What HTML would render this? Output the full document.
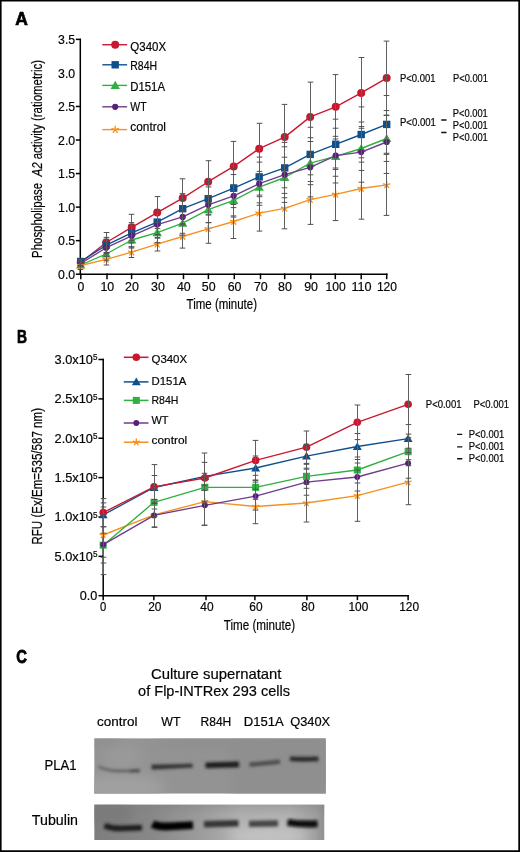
<!DOCTYPE html><html><head><meta charset="utf-8"><title>Figure</title><style>html,body{margin:0;padding:0;background:#fff;}svg{display:block;will-change:transform;}text{stroke:#111;stroke-width:0.2px;}</style></head><body>
<svg width="520" height="852" viewBox="0 0 520 852" font-family='"Liberation Sans", sans-serif'>
<defs><filter id="bl1" x="-20%" y="-50%" width="140%" height="200%"><feGaussianBlur stdDeviation="1.1"/></filter><filter id="bl2" x="-20%" y="-80%" width="140%" height="260%"><feGaussianBlur stdDeviation="1.5"/></filter><filter id="bl3" x="-20%" y="-20%" width="140%" height="140%"><feGaussianBlur stdDeviation="6"/></filter><linearGradient id="gt" x1="94" y1="0" x2="326" y2="0" gradientUnits="userSpaceOnUse"><stop offset="0" stop-color="#7e7e7e"/><stop offset="0.24" stop-color="#878787"/><stop offset="0.46" stop-color="#9c9c9c"/><stop offset="0.63" stop-color="#b0b0b0"/><stop offset="0.84" stop-color="#b2b2b2"/><stop offset="0.95" stop-color="#a0a0a0"/><stop offset="1" stop-color="#8e8e8e"/></linearGradient><clipPath id="c1"><rect x="94.2" y="738.2" width="231.7" height="55.5"/></clipPath><clipPath id="c2"><rect x="94.2" y="804.4" width="230.3" height="35.7"/></clipPath></defs>
<rect width="520" height="852" fill="#fff"/>
<text x="15.30" y="24.70" font-size="18" textLength="12.60" lengthAdjust="spacingAndGlyphs" font-weight="bold" fill="#000" style="stroke:#000;stroke-width:0.7px">A</text>
<g stroke="#000" stroke-width="1.5" fill="none" stroke-linecap="square">
<path d="M80.3 39.4V274.2H386.7"/>
<path d="M76.6 274.20H80.3"/>
<path d="M76.6 240.65H80.3"/>
<path d="M76.6 207.11H80.3"/>
<path d="M76.6 173.56H80.3"/>
<path d="M76.6 140.02H80.3"/>
<path d="M76.6 106.47H80.3"/>
<path d="M76.6 39.38H80.3"/>
<path d="M80.80 274.2V278.4"/>
<path d="M107.00 274.2V278.4"/>
<path d="M131.60 274.2V278.4"/>
<path d="M157.60 274.2V278.4"/>
<path d="M183.50 274.2V278.4"/>
<path d="M208.40 274.2V278.4"/>
<path d="M234.30 274.2V278.4"/>
<path d="M260.50 274.2V278.4"/>
<path d="M284.70 274.2V278.4"/>
<path d="M310.80 274.2V278.4"/>
<path d="M335.30 274.2V278.4"/>
<path d="M361.20 274.2V278.4"/>
<path d="M386.70 274.2V278.4"/>
</g>
<polyline points="80.70,262.50 106.20,242.50 131.70,227.30 157.20,212.60 182.70,198.10 208.20,181.70 233.70,166.40 259.20,148.70 284.70,137.10 310.20,116.90 335.70,106.80 361.20,92.90 386.70,78.10" fill="none" stroke="#c81830" stroke-width="1.35" stroke-linejoin="round"/>
<circle cx="80.70" cy="262.50" r="4.00" fill="#c81830"/>
<circle cx="106.20" cy="242.50" r="4.00" fill="#c81830"/>
<circle cx="131.70" cy="227.30" r="4.00" fill="#c81830"/>
<circle cx="157.20" cy="212.60" r="4.00" fill="#c81830"/>
<circle cx="182.70" cy="198.10" r="4.00" fill="#c81830"/>
<circle cx="208.20" cy="181.70" r="4.00" fill="#c81830"/>
<circle cx="233.70" cy="166.40" r="4.00" fill="#c81830"/>
<circle cx="259.20" cy="148.70" r="4.00" fill="#c81830"/>
<circle cx="284.70" cy="137.10" r="4.00" fill="#c81830"/>
<circle cx="310.20" cy="116.90" r="4.00" fill="#c81830"/>
<circle cx="335.70" cy="106.80" r="4.00" fill="#c81830"/>
<circle cx="361.20" cy="92.90" r="4.00" fill="#c81830"/>
<circle cx="386.70" cy="78.10" r="4.00" fill="#c81830"/>
<polyline points="80.70,261.50 106.20,245.20 131.70,232.80 157.20,222.10 182.70,208.70 208.20,198.70 233.70,188.10 259.20,176.90 284.70,167.90 310.20,154.40 335.70,144.30 361.20,134.50 386.70,124.40" fill="none" stroke="#0f508c" stroke-width="1.35" stroke-linejoin="round"/>
<rect x="77.00" y="257.80" width="7.40" height="7.40" fill="#0f508c"/>
<rect x="102.50" y="241.50" width="7.40" height="7.40" fill="#0f508c"/>
<rect x="128.00" y="229.10" width="7.40" height="7.40" fill="#0f508c"/>
<rect x="153.50" y="218.40" width="7.40" height="7.40" fill="#0f508c"/>
<rect x="179.00" y="205.00" width="7.40" height="7.40" fill="#0f508c"/>
<rect x="204.50" y="195.00" width="7.40" height="7.40" fill="#0f508c"/>
<rect x="230.00" y="184.40" width="7.40" height="7.40" fill="#0f508c"/>
<rect x="255.50" y="173.20" width="7.40" height="7.40" fill="#0f508c"/>
<rect x="281.00" y="164.20" width="7.40" height="7.40" fill="#0f508c"/>
<rect x="306.50" y="150.70" width="7.40" height="7.40" fill="#0f508c"/>
<rect x="332.00" y="140.60" width="7.40" height="7.40" fill="#0f508c"/>
<rect x="357.50" y="130.80" width="7.40" height="7.40" fill="#0f508c"/>
<rect x="383.00" y="120.70" width="7.40" height="7.40" fill="#0f508c"/>
<polyline points="80.70,265.00 106.20,254.00 131.70,240.00 157.20,232.70 182.70,223.10 208.20,209.60 233.70,200.40 259.20,187.10 284.70,177.50 310.20,163.10 335.70,156.30 361.20,148.50 386.70,138.50" fill="none" stroke="#2fb040" stroke-width="1.35" stroke-linejoin="round"/>
<polygon points="80.70,260.40 85.40,268.60 76.00,268.60" fill="#2fb040"/>
<polygon points="106.20,249.40 110.90,257.60 101.50,257.60" fill="#2fb040"/>
<polygon points="131.70,235.40 136.40,243.60 127.00,243.60" fill="#2fb040"/>
<polygon points="157.20,228.10 161.90,236.30 152.50,236.30" fill="#2fb040"/>
<polygon points="182.70,218.50 187.40,226.70 178.00,226.70" fill="#2fb040"/>
<polygon points="208.20,205.00 212.90,213.20 203.50,213.20" fill="#2fb040"/>
<polygon points="233.70,195.80 238.40,204.00 229.00,204.00" fill="#2fb040"/>
<polygon points="259.20,182.50 263.90,190.70 254.50,190.70" fill="#2fb040"/>
<polygon points="284.70,172.90 289.40,181.10 280.00,181.10" fill="#2fb040"/>
<polygon points="310.20,158.50 314.90,166.70 305.50,166.70" fill="#2fb040"/>
<polygon points="335.70,151.70 340.40,159.90 331.00,159.90" fill="#2fb040"/>
<polygon points="361.20,143.90 365.90,152.10 356.50,152.10" fill="#2fb040"/>
<polygon points="386.70,133.90 391.40,142.10 382.00,142.10" fill="#2fb040"/>
<polyline points="80.70,263.50 106.20,247.70 131.70,235.80 157.20,224.60 182.70,216.90 208.20,204.80 233.70,195.80 259.20,183.70 284.70,174.60 310.20,167.30 335.70,155.60 361.20,152.10 386.70,142.00" fill="none" stroke="#6e3c8c" stroke-width="1.35" stroke-linejoin="round"/>
<circle cx="80.70" cy="263.50" r="3.10" fill="#5a1f78"/>
<circle cx="106.20" cy="247.70" r="3.10" fill="#5a1f78"/>
<circle cx="131.70" cy="235.80" r="3.10" fill="#5a1f78"/>
<circle cx="157.20" cy="224.60" r="3.10" fill="#5a1f78"/>
<circle cx="182.70" cy="216.90" r="3.10" fill="#5a1f78"/>
<circle cx="208.20" cy="204.80" r="3.10" fill="#5a1f78"/>
<circle cx="233.70" cy="195.80" r="3.10" fill="#5a1f78"/>
<circle cx="259.20" cy="183.70" r="3.10" fill="#5a1f78"/>
<circle cx="284.70" cy="174.60" r="3.10" fill="#5a1f78"/>
<circle cx="310.20" cy="167.30" r="3.10" fill="#5a1f78"/>
<circle cx="335.70" cy="155.60" r="3.10" fill="#5a1f78"/>
<circle cx="361.20" cy="152.10" r="3.10" fill="#5a1f78"/>
<circle cx="386.70" cy="142.00" r="3.10" fill="#5a1f78"/>
<polyline points="80.70,265.50 106.20,259.40 131.70,252.20 157.20,244.20 182.70,236.50 208.20,228.80 233.70,221.50 259.20,213.10 284.70,208.30 310.20,199.60 335.70,194.30 361.20,188.50 386.70,184.90" fill="none" stroke="#f7901e" stroke-width="1.35" stroke-linejoin="round"/>
<path d="M80.70 265.50L80.70 262.10M80.70 265.50L83.93 264.45M80.70 265.50L82.70 268.25M80.70 265.50L78.70 268.25M80.70 265.50L77.47 264.45" stroke="#f7901e" stroke-width="1.35" stroke-linecap="round" fill="none"/>
<path d="M106.20 259.40L106.20 256.00M106.20 259.40L109.43 258.35M106.20 259.40L108.20 262.15M106.20 259.40L104.20 262.15M106.20 259.40L102.97 258.35" stroke="#f7901e" stroke-width="1.35" stroke-linecap="round" fill="none"/>
<path d="M131.70 252.20L131.70 248.80M131.70 252.20L134.93 251.15M131.70 252.20L133.70 254.95M131.70 252.20L129.70 254.95M131.70 252.20L128.47 251.15" stroke="#f7901e" stroke-width="1.35" stroke-linecap="round" fill="none"/>
<path d="M157.20 244.20L157.20 240.80M157.20 244.20L160.43 243.15M157.20 244.20L159.20 246.95M157.20 244.20L155.20 246.95M157.20 244.20L153.97 243.15" stroke="#f7901e" stroke-width="1.35" stroke-linecap="round" fill="none"/>
<path d="M182.70 236.50L182.70 233.10M182.70 236.50L185.93 235.45M182.70 236.50L184.70 239.25M182.70 236.50L180.70 239.25M182.70 236.50L179.47 235.45" stroke="#f7901e" stroke-width="1.35" stroke-linecap="round" fill="none"/>
<path d="M208.20 228.80L208.20 225.40M208.20 228.80L211.43 227.75M208.20 228.80L210.20 231.55M208.20 228.80L206.20 231.55M208.20 228.80L204.97 227.75" stroke="#f7901e" stroke-width="1.35" stroke-linecap="round" fill="none"/>
<path d="M233.70 221.50L233.70 218.10M233.70 221.50L236.93 220.45M233.70 221.50L235.70 224.25M233.70 221.50L231.70 224.25M233.70 221.50L230.47 220.45" stroke="#f7901e" stroke-width="1.35" stroke-linecap="round" fill="none"/>
<path d="M259.20 213.10L259.20 209.70M259.20 213.10L262.43 212.05M259.20 213.10L261.20 215.85M259.20 213.10L257.20 215.85M259.20 213.10L255.97 212.05" stroke="#f7901e" stroke-width="1.35" stroke-linecap="round" fill="none"/>
<path d="M284.70 208.30L284.70 204.90M284.70 208.30L287.93 207.25M284.70 208.30L286.70 211.05M284.70 208.30L282.70 211.05M284.70 208.30L281.47 207.25" stroke="#f7901e" stroke-width="1.35" stroke-linecap="round" fill="none"/>
<path d="M310.20 199.60L310.20 196.20M310.20 199.60L313.43 198.55M310.20 199.60L312.20 202.35M310.20 199.60L308.20 202.35M310.20 199.60L306.97 198.55" stroke="#f7901e" stroke-width="1.35" stroke-linecap="round" fill="none"/>
<path d="M335.70 194.30L335.70 190.90M335.70 194.30L338.93 193.25M335.70 194.30L337.70 197.05M335.70 194.30L333.70 197.05M335.70 194.30L332.47 193.25" stroke="#f7901e" stroke-width="1.35" stroke-linecap="round" fill="none"/>
<path d="M361.20 188.50L361.20 185.10M361.20 188.50L364.43 187.45M361.20 188.50L363.20 191.25M361.20 188.50L359.20 191.25M361.20 188.50L357.97 187.45" stroke="#f7901e" stroke-width="1.35" stroke-linecap="round" fill="none"/>
<path d="M386.70 184.90L386.70 181.50M386.70 184.90L389.93 183.85M386.70 184.90L388.70 187.65M386.70 184.90L384.70 187.65M386.70 184.90L383.47 183.85" stroke="#f7901e" stroke-width="1.35" stroke-linecap="round" fill="none"/>
<path d="M80.50 259.16V269.50M106.50 232.50V265.00M131.50 214.30V257.50M157.50 196.60V251.00M182.50 178.80V248.10M208.50 160.70V243.30M233.50 141.40V238.50M259.50 123.30V231.10M284.50 104.40V228.80M310.50 82.10V224.40M335.50 74.60V220.60M361.50 57.50V219.20M386.50 41.10V215.40" stroke="#606060" stroke-width="1" fill="none"/>
<path d="M77.70 259.50H83.30M77.70 265.50H83.30M77.70 259.16H83.30M77.70 263.84H83.30M77.70 260.95H83.30M77.70 266.05H83.30M77.70 263.14H83.30M77.70 266.86H83.30M77.70 261.50H83.30M77.70 269.50H83.30M103.70 232.50H109.30M103.70 252.50H109.30M103.70 237.40H109.30M103.70 253.00H109.30M103.70 239.20H109.30M103.70 256.20H109.30M103.70 247.80H109.30M103.70 260.20H109.30M103.70 253.80H109.30M103.70 265.00H109.30M128.70 214.30H134.30M128.70 240.30H134.30M128.70 222.66H134.30M128.70 242.94H134.30M128.70 224.75H134.30M128.70 246.85H134.30M128.70 231.94H134.30M128.70 248.06H134.30M128.70 246.90H134.30M128.70 257.50H134.30M154.70 196.60H160.30M154.70 228.60H160.30M154.70 209.62H160.30M154.70 234.58H160.30M154.70 211.00H160.30M154.70 238.20H160.30M154.70 222.78H160.30M154.70 242.62H160.30M154.70 237.40H160.30M154.70 251.00H160.30M179.70 178.80H185.30M179.70 217.40H185.30M179.70 193.65H185.30M179.70 223.75H185.30M179.70 200.50H185.30M179.70 233.31H185.30M179.70 211.13H185.30M179.70 235.07H185.30M179.70 224.90H185.30M179.70 248.10H185.30M205.70 160.70H211.30M205.70 202.70H211.30M205.70 182.32H211.30M205.70 215.08H211.30M205.70 186.95H211.30M205.70 222.65H211.30M205.70 196.58H211.30M205.70 222.62H211.30M205.70 214.30H211.30M205.70 243.30H211.30M230.70 141.40H236.30M230.70 191.40H236.30M230.70 168.60H236.30M230.70 207.60H236.30M230.70 174.55H236.30M230.70 217.05H236.30M230.70 184.90H236.30M230.70 215.90H236.30M230.70 204.50H236.30M230.70 238.50H236.30M256.70 123.30H262.30M256.70 174.10H262.30M256.70 157.09H262.30M256.70 196.71H262.30M256.70 162.11H262.30M256.70 205.29H262.30M256.70 171.35H262.30M256.70 202.85H262.30M256.70 195.10H262.30M256.70 231.10H262.30M281.70 104.40H287.30M281.70 169.80H287.30M281.70 142.39H287.30M281.70 193.41H287.30M281.70 146.81H287.30M281.70 202.39H287.30M281.70 157.23H287.30M281.70 197.77H287.30M281.70 187.80H287.30M281.70 228.80H287.30M307.70 82.10H313.30M307.70 151.70H313.30M307.70 127.26H313.30M307.70 181.54H313.30M307.70 137.72H313.30M307.70 196.88H313.30M307.70 141.52H313.30M307.70 184.68H313.30M307.70 174.80H313.30M307.70 224.40H313.30M332.70 74.60H338.30M332.70 139.00H338.30M332.70 119.18H338.30M332.70 169.42H338.30M332.70 128.23H338.30M332.70 182.97H338.30M332.70 136.34H338.30M332.70 176.26H338.30M332.70 168.00H338.30M332.70 220.60H338.30M358.70 57.50H364.30M358.70 128.30H364.30M358.70 106.89H364.30M358.70 162.11H364.30M358.70 122.01H364.30M358.70 182.19H364.30M358.70 126.55H364.30M358.70 170.45H364.30M358.70 157.80H364.30M358.70 219.20H364.30M383.70 41.10H389.30M383.70 115.10H389.30M383.70 95.54H389.30M383.70 153.26H389.30M383.70 110.55H389.30M383.70 173.45H389.30M383.70 115.56H389.30M383.70 161.44H389.30M383.70 154.40H389.30M383.70 215.40H389.30" stroke="#505050" stroke-width="1" fill="none"/>
<text x="75.20" y="278.80" font-size="13" text-anchor="end" textLength="17.10" lengthAdjust="spacingAndGlyphs">0.0</text>
<text x="75.20" y="245.25" font-size="13" text-anchor="end" textLength="17.10" lengthAdjust="spacingAndGlyphs">0.5</text>
<text x="75.20" y="211.71" font-size="13" text-anchor="end" textLength="17.10" lengthAdjust="spacingAndGlyphs">1.0</text>
<text x="75.20" y="178.16" font-size="13" text-anchor="end" textLength="17.10" lengthAdjust="spacingAndGlyphs">1.5</text>
<text x="75.20" y="144.62" font-size="13" text-anchor="end" textLength="17.10" lengthAdjust="spacingAndGlyphs">2.0</text>
<text x="75.20" y="111.07" font-size="13" text-anchor="end" textLength="17.10" lengthAdjust="spacingAndGlyphs">2.5</text>
<text x="75.20" y="77.53" font-size="13" text-anchor="end" textLength="17.10" lengthAdjust="spacingAndGlyphs">3.0</text>
<text x="75.20" y="43.98" font-size="13" text-anchor="end" textLength="17.10" lengthAdjust="spacingAndGlyphs">3.5</text>
<text x="80.80" y="291.00" font-size="13" text-anchor="middle" textLength="6.80" lengthAdjust="spacingAndGlyphs">0</text>
<text x="107.30" y="291.00" font-size="13" text-anchor="middle" textLength="13.80" lengthAdjust="spacingAndGlyphs">10</text>
<text x="131.90" y="291.00" font-size="13" text-anchor="middle" textLength="13.80" lengthAdjust="spacingAndGlyphs">20</text>
<text x="157.90" y="291.00" font-size="13" text-anchor="middle" textLength="13.80" lengthAdjust="spacingAndGlyphs">30</text>
<text x="183.80" y="291.00" font-size="13" text-anchor="middle" textLength="13.80" lengthAdjust="spacingAndGlyphs">40</text>
<text x="208.70" y="291.00" font-size="13" text-anchor="middle" textLength="13.80" lengthAdjust="spacingAndGlyphs">50</text>
<text x="234.60" y="291.00" font-size="13" text-anchor="middle" textLength="13.80" lengthAdjust="spacingAndGlyphs">60</text>
<text x="260.80" y="291.00" font-size="13" text-anchor="middle" textLength="13.80" lengthAdjust="spacingAndGlyphs">70</text>
<text x="285.00" y="291.00" font-size="13" text-anchor="middle" textLength="13.80" lengthAdjust="spacingAndGlyphs">80</text>
<text x="311.10" y="291.00" font-size="13" text-anchor="middle" textLength="13.80" lengthAdjust="spacingAndGlyphs">90</text>
<text x="335.60" y="291.00" font-size="13" text-anchor="middle" textLength="20.20" lengthAdjust="spacingAndGlyphs">100</text>
<text x="361.50" y="291.00" font-size="13" text-anchor="middle" textLength="20.20" lengthAdjust="spacingAndGlyphs">110</text>
<text x="387.00" y="291.00" font-size="13" text-anchor="middle" textLength="20.20" lengthAdjust="spacingAndGlyphs">120</text>
<text x="186.60" y="308.80" font-size="14.5" textLength="70.40" lengthAdjust="spacingAndGlyphs">Time (minute)</text>
<g transform="translate(42,258) rotate(-90)">
<text x="0.00" y="0.00" font-size="14" textLength="198.00" lengthAdjust="spacingAndGlyphs">Phospholipase&#160;&#160;<tspan font-style="italic">A2</tspan> activity (ratiometric)</text>
</g>
<path d="M102.3 44.75H127.1" stroke="#c81830" stroke-width="1.4"/>
<circle cx="115.20" cy="44.75" r="4.00" fill="#c81830"/>
<text x="130.30" y="50.70" font-size="11.9" textLength="35.80" lengthAdjust="spacingAndGlyphs">Q340X</text>
<path d="M102.3 64.8H127.1" stroke="#0f508c" stroke-width="1.4"/>
<rect x="111.50" y="61.10" width="7.40" height="7.40" fill="#0f508c"/>
<text x="130.30" y="70.30" font-size="11.9" textLength="26.80" lengthAdjust="spacingAndGlyphs">R84H</text>
<path d="M102.3 85.4H127.1" stroke="#2fb040" stroke-width="1.4"/>
<polygon points="115.20,80.80 119.90,89.00 110.50,89.00" fill="#2fb040"/>
<text x="130.30" y="90.70" font-size="11.9" textLength="34.70" lengthAdjust="spacingAndGlyphs">D151A</text>
<path d="M102.3 106.8H127.1" stroke="#6e3c8c" stroke-width="1.4"/>
<circle cx="115.20" cy="106.80" r="3.10" fill="#5a1f78"/>
<text x="130.30" y="111.00" font-size="11.9" textLength="16.30" lengthAdjust="spacingAndGlyphs">WT</text>
<path d="M102.3 129.6H127.1" stroke="#f7901e" stroke-width="1.4"/>
<path d="M115.20 129.60L115.20 126.20M115.20 129.60L118.43 128.55M115.20 129.60L117.20 132.35M115.20 129.60L113.20 132.35M115.20 129.60L111.97 128.55" stroke="#f7901e" stroke-width="1.35" stroke-linecap="round" fill="none"/>
<text x="130.30" y="131.10" font-size="11.9" textLength="35.60" lengthAdjust="spacingAndGlyphs">control</text>
<text x="400.00" y="82.20" font-size="10.3" textLength="35.50" lengthAdjust="spacingAndGlyphs">P&lt;0.001</text>
<text x="453.00" y="82.20" font-size="10.3" textLength="35.00" lengthAdjust="spacingAndGlyphs">P&lt;0.001</text>
<text x="400.00" y="125.90" font-size="10.3" textLength="35.80" lengthAdjust="spacingAndGlyphs">P&lt;0.001</text>
<text x="452.80" y="117.40" font-size="10.3" textLength="35.00" lengthAdjust="spacingAndGlyphs">P&lt;0.001</text>
<text x="452.80" y="128.50" font-size="10.3" textLength="35.00" lengthAdjust="spacingAndGlyphs">P&lt;0.001</text>
<text x="452.80" y="140.70" font-size="10.3" textLength="35.00" lengthAdjust="spacingAndGlyphs">P&lt;0.001</text>
<path d="M441.2 120H446.5M441.2 132.5H446.5" stroke="#111" stroke-width="1.4"/>
<text x="16.90" y="342.90" font-size="18" textLength="10.00" lengthAdjust="spacingAndGlyphs" font-weight="bold" fill="#000" style="stroke:#000;stroke-width:0.7px">B</text>
<g stroke="#000" stroke-width="1.5" fill="none" stroke-linecap="square">
<path d="M103.2 359.5V595.7H408.1"/>
<path d="M99.2 595.70H103.2"/>
<path d="M99.2 556.34H103.2"/>
<path d="M99.2 516.97H103.2"/>
<path d="M99.2 477.61H103.2"/>
<path d="M99.2 438.24H103.2"/>
<path d="M99.2 398.88H103.2"/>
<path d="M99.2 359.51H103.2"/>
<path d="M103.20 595.7V599.4"/>
<path d="M153.85 595.7V599.4"/>
<path d="M206.00 595.7V599.4"/>
<path d="M254.90 595.7V599.4"/>
<path d="M306.90 595.7V599.4"/>
<path d="M357.40 595.7V599.4"/>
<path d="M408.10 595.7V599.4"/>
</g>
<polyline points="103.20,535.00 154.02,514.90 204.84,501.60 255.66,506.50 306.48,503.00 357.30,495.70 408.12,482.20" fill="none" stroke="#f7901e" stroke-width="1.35" stroke-linejoin="round"/>
<path d="M103.20 535.00L103.20 531.77M103.20 535.00L106.27 534.00M103.20 535.00L105.10 537.61M103.20 535.00L101.30 537.61M103.20 535.00L100.13 534.00" stroke="#f7901e" stroke-width="1.35" stroke-linecap="round" fill="none"/>
<path d="M154.02 514.90L154.02 511.67M154.02 514.90L157.09 513.90M154.02 514.90L155.92 517.51M154.02 514.90L152.12 517.51M154.02 514.90L150.95 513.90" stroke="#f7901e" stroke-width="1.35" stroke-linecap="round" fill="none"/>
<path d="M204.84 501.60L204.84 498.37M204.84 501.60L207.91 500.60M204.84 501.60L206.74 504.21M204.84 501.60L202.94 504.21M204.84 501.60L201.77 500.60" stroke="#f7901e" stroke-width="1.35" stroke-linecap="round" fill="none"/>
<path d="M255.66 506.50L255.66 503.27M255.66 506.50L258.73 505.50M255.66 506.50L257.56 509.11M255.66 506.50L253.76 509.11M255.66 506.50L252.59 505.50" stroke="#f7901e" stroke-width="1.35" stroke-linecap="round" fill="none"/>
<path d="M306.48 503.00L306.48 499.77M306.48 503.00L309.55 502.00M306.48 503.00L308.38 505.61M306.48 503.00L304.58 505.61M306.48 503.00L303.41 502.00" stroke="#f7901e" stroke-width="1.35" stroke-linecap="round" fill="none"/>
<path d="M357.30 495.70L357.30 492.47M357.30 495.70L360.37 494.70M357.30 495.70L359.20 498.31M357.30 495.70L355.40 498.31M357.30 495.70L354.23 494.70" stroke="#f7901e" stroke-width="1.35" stroke-linecap="round" fill="none"/>
<path d="M408.12 482.20L408.12 478.97M408.12 482.20L411.19 481.20M408.12 482.20L410.02 484.81M408.12 482.20L406.22 484.81M408.12 482.20L405.05 481.20" stroke="#f7901e" stroke-width="1.35" stroke-linecap="round" fill="none"/>
<polyline points="103.20,514.90 154.02,487.50 204.84,476.40 255.66,468.00 306.48,456.20 357.30,446.50 408.12,438.60" fill="none" stroke="#0f508c" stroke-width="1.35" stroke-linejoin="round"/>
<polygon points="103.20,510.53 107.67,518.32 98.73,518.32" fill="#0f508c"/>
<polygon points="154.02,483.13 158.49,490.92 149.56,490.92" fill="#0f508c"/>
<polygon points="204.84,472.03 209.31,479.82 200.38,479.82" fill="#0f508c"/>
<polygon points="255.66,463.63 260.12,471.42 251.20,471.42" fill="#0f508c"/>
<polygon points="306.48,451.83 310.94,459.62 302.02,459.62" fill="#0f508c"/>
<polygon points="357.30,442.13 361.76,449.92 352.84,449.92" fill="#0f508c"/>
<polygon points="408.12,434.23 412.58,442.02 403.66,442.02" fill="#0f508c"/>
<polyline points="103.20,545.20 154.02,502.30 204.84,487.30 255.66,487.30 306.48,476.30 357.30,470.00 408.12,451.70" fill="none" stroke="#2fb040" stroke-width="1.35" stroke-linejoin="round"/>
<rect x="99.69" y="541.69" width="7.03" height="7.03" fill="#2fb040"/>
<rect x="150.51" y="498.79" width="7.03" height="7.03" fill="#2fb040"/>
<rect x="201.33" y="483.79" width="7.03" height="7.03" fill="#2fb040"/>
<rect x="252.15" y="483.79" width="7.03" height="7.03" fill="#2fb040"/>
<rect x="302.97" y="472.79" width="7.03" height="7.03" fill="#2fb040"/>
<rect x="353.79" y="466.49" width="7.03" height="7.03" fill="#2fb040"/>
<rect x="404.61" y="448.19" width="7.03" height="7.03" fill="#2fb040"/>
<polyline points="103.20,512.60 154.02,486.80 204.84,478.00 255.66,460.40 306.48,447.20 357.30,422.30 408.12,404.30" fill="none" stroke="#c81830" stroke-width="1.35" stroke-linejoin="round"/>
<circle cx="103.20" cy="512.60" r="3.80" fill="#c81830"/>
<circle cx="154.02" cy="486.80" r="3.80" fill="#c81830"/>
<circle cx="204.84" cy="478.00" r="3.80" fill="#c81830"/>
<circle cx="255.66" cy="460.40" r="3.80" fill="#c81830"/>
<circle cx="306.48" cy="447.20" r="3.80" fill="#c81830"/>
<circle cx="357.30" cy="422.30" r="3.80" fill="#c81830"/>
<circle cx="408.12" cy="404.30" r="3.80" fill="#c81830"/>
<polyline points="103.20,544.60 154.02,515.40 204.84,505.30 255.66,496.10 306.48,482.20 357.30,477.00 408.12,463.20" fill="none" stroke="#6e3c8c" stroke-width="1.35" stroke-linejoin="round"/>
<circle cx="103.20" cy="544.60" r="2.94" fill="#5a1f78"/>
<circle cx="154.02" cy="515.40" r="2.94" fill="#5a1f78"/>
<circle cx="204.84" cy="505.30" r="2.94" fill="#5a1f78"/>
<circle cx="255.66" cy="496.10" r="2.94" fill="#5a1f78"/>
<circle cx="306.48" cy="482.20" r="2.94" fill="#5a1f78"/>
<circle cx="357.30" cy="477.00" r="2.94" fill="#5a1f78"/>
<circle cx="408.12" cy="463.20" r="2.94" fill="#5a1f78"/>
<path d="M103.50 498.60V574.60M154.50 464.60V527.40M204.50 453.00V525.30M255.50 440.40V523.70M306.50 431.00V522.00M357.50 405.00V521.30M408.50 374.50V504.70" stroke="#606060" stroke-width="1" fill="none"/>
<path d="M100.70 498.60H106.30M100.70 526.60H106.30M100.70 502.90H106.30M100.70 526.90H106.30M100.70 514.60H106.30M100.70 574.60H106.30M100.70 533.20H106.30M100.70 557.20H106.30M100.70 507.00H106.30M100.70 563.00H106.30M151.70 464.60H157.30M151.70 509.00H157.30M151.70 475.50H157.30M151.70 499.50H157.30M151.70 503.40H157.30M151.70 527.40H157.30M151.70 488.30H157.30M151.70 516.30H157.30M151.70 502.90H157.30M151.70 526.90H157.30M201.70 453.00H207.30M201.70 503.00H207.30M201.70 462.40H207.30M201.70 490.40H207.30M201.70 485.30H207.30M201.70 525.30H207.30M201.70 473.30H207.30M201.70 501.30H207.30M201.70 478.00H207.30M201.70 525.20H207.30M252.70 440.40H258.30M252.70 480.40H258.30M252.70 456.00H258.30M252.70 480.00H258.30M252.70 482.10H258.30M252.70 510.10H258.30M252.70 475.30H258.30M252.70 499.30H258.30M252.70 489.30H258.30M252.70 523.70H258.30M303.70 431.00H309.30M303.70 463.40H309.30M303.70 444.20H309.30M303.70 468.20H309.30M303.70 469.20H309.30M303.70 495.20H309.30M303.70 464.30H309.30M303.70 488.30H309.30M303.70 484.00H309.30M303.70 522.00H309.30M354.70 405.00H360.30M354.70 439.60H360.30M354.70 433.50H360.30M354.70 459.50H360.30M354.70 463.00H360.30M354.70 491.00H360.30M354.70 457.00H360.30M354.70 483.00H360.30M354.70 470.10H360.30M354.70 521.30H360.30M405.70 374.50H411.30M405.70 434.10H411.30M405.70 424.60H411.30M405.70 452.60H411.30M405.70 448.20H411.30M405.70 478.20H411.30M405.70 437.70H411.30M405.70 465.70H411.30M405.70 459.70H411.30M405.70 504.70H411.30" stroke="#505050" stroke-width="1" fill="none"/>
<text x="54.60" y="364.01" font-size="12.4" textLength="38.30" lengthAdjust="spacingAndGlyphs">3.0x10</text>
<text x="92.90" y="360.41" font-size="8.6" textLength="4.50" lengthAdjust="spacingAndGlyphs">5</text>
<text x="54.60" y="403.38" font-size="12.4" textLength="38.30" lengthAdjust="spacingAndGlyphs">2.5x10</text>
<text x="92.90" y="399.77" font-size="8.6" textLength="4.50" lengthAdjust="spacingAndGlyphs">5</text>
<text x="54.60" y="442.74" font-size="12.4" textLength="38.30" lengthAdjust="spacingAndGlyphs">2.0x10</text>
<text x="92.90" y="439.14" font-size="8.6" textLength="4.50" lengthAdjust="spacingAndGlyphs">5</text>
<text x="54.60" y="482.11" font-size="12.4" textLength="38.30" lengthAdjust="spacingAndGlyphs">1.5x10</text>
<text x="92.90" y="478.50" font-size="8.6" textLength="4.50" lengthAdjust="spacingAndGlyphs">5</text>
<text x="54.60" y="521.47" font-size="12.4" textLength="38.30" lengthAdjust="spacingAndGlyphs">1.0x10</text>
<text x="92.90" y="517.87" font-size="8.6" textLength="4.50" lengthAdjust="spacingAndGlyphs">5</text>
<text x="54.60" y="560.84" font-size="12.4" textLength="38.30" lengthAdjust="spacingAndGlyphs">5.0x10</text>
<text x="92.90" y="557.24" font-size="8.6" textLength="4.50" lengthAdjust="spacingAndGlyphs">5</text>
<text x="97.40" y="599.90" font-size="12.4" text-anchor="end" textLength="17.60" lengthAdjust="spacingAndGlyphs">0.0</text>
<text x="103.20" y="610.50" font-size="12.4" text-anchor="middle" textLength="6.30" lengthAdjust="spacingAndGlyphs">0</text>
<text x="154.85" y="610.50" font-size="12.4" text-anchor="middle" textLength="13.30" lengthAdjust="spacingAndGlyphs">20</text>
<text x="207.00" y="610.50" font-size="12.4" text-anchor="middle" textLength="13.30" lengthAdjust="spacingAndGlyphs">40</text>
<text x="255.90" y="610.50" font-size="12.4" text-anchor="middle" textLength="13.30" lengthAdjust="spacingAndGlyphs">60</text>
<text x="307.90" y="610.50" font-size="12.4" text-anchor="middle" textLength="13.30" lengthAdjust="spacingAndGlyphs">80</text>
<text x="358.40" y="610.50" font-size="12.4" text-anchor="middle" textLength="19.90" lengthAdjust="spacingAndGlyphs">100</text>
<text x="409.10" y="610.50" font-size="12.4" text-anchor="middle" textLength="19.90" lengthAdjust="spacingAndGlyphs">120</text>
<text x="223.80" y="629.70" font-size="14.5" textLength="71.30" lengthAdjust="spacingAndGlyphs">Time (minute)</text>
<g transform="translate(42,544.6) rotate(-90)">
<text x="0.00" y="0.00" font-size="14" textLength="136.60" lengthAdjust="spacingAndGlyphs">RFU (Ex/Em=535/587 nm)</text>
</g>
<path d="M123.8 357.3H148.5" stroke="#c81830" stroke-width="1.5"/>
<circle cx="136.30" cy="357.30" r="3.80" fill="#c81830"/>
<text x="151.50" y="362.50" font-size="11.6" textLength="35.60" lengthAdjust="spacingAndGlyphs">Q340X</text>
<path d="M123.8 381.9H148.5" stroke="#0f508c" stroke-width="1.5"/>
<polygon points="136.30,377.53 140.77,385.32 131.84,385.32" fill="#0f508c"/>
<text x="151.50" y="385.30" font-size="11.6" textLength="34.80" lengthAdjust="spacingAndGlyphs">D151A</text>
<path d="M123.8 400.4H148.5" stroke="#2fb040" stroke-width="1.5"/>
<rect x="132.79" y="396.88" width="7.03" height="7.03" fill="#2fb040"/>
<text x="151.50" y="404.20" font-size="11.6" textLength="27.00" lengthAdjust="spacingAndGlyphs">R84H</text>
<path d="M123.8 423.0H148.5" stroke="#6e3c8c" stroke-width="1.5"/>
<circle cx="136.30" cy="423.00" r="2.94" fill="#5a1f78"/>
<text x="151.50" y="423.80" font-size="11.6" textLength="17.00" lengthAdjust="spacingAndGlyphs">WT</text>
<path d="M123.8 442.2H148.5" stroke="#f7901e" stroke-width="1.5"/>
<path d="M136.30 442.20L136.30 438.97M136.30 442.20L139.37 441.20M136.30 442.20L138.20 444.81M136.30 442.20L134.40 444.81M136.30 442.20L133.23 441.20" stroke="#f7901e" stroke-width="1.35" stroke-linecap="round" fill="none"/>
<text x="151.50" y="443.50" font-size="11.6" textLength="35.70" lengthAdjust="spacingAndGlyphs">control</text>
<text x="425.80" y="408.10" font-size="10.3" textLength="35.70" lengthAdjust="spacingAndGlyphs">P&lt;0.001</text>
<text x="473.50" y="408.10" font-size="10.3" textLength="35.50" lengthAdjust="spacingAndGlyphs">P&lt;0.001</text>
<text x="468.70" y="437.90" font-size="10.3" textLength="35.50" lengthAdjust="spacingAndGlyphs">P&lt;0.001</text>
<text x="468.70" y="450.00" font-size="10.3" textLength="35.50" lengthAdjust="spacingAndGlyphs">P&lt;0.001</text>
<text x="468.70" y="461.90" font-size="10.3" textLength="35.50" lengthAdjust="spacingAndGlyphs">P&lt;0.001</text>
<path d="M457.1 434.4H462.3M457.1 446.9H462.3M457.1 458.7H462.3" stroke="#111" stroke-width="1.4"/>
<text x="16.30" y="663.00" font-size="18" textLength="10.70" lengthAdjust="spacingAndGlyphs" font-weight="bold" fill="#000" style="stroke:#000;stroke-width:0.8px">C</text>
<text x="150.90" y="678.80" font-size="14.3" textLength="130.60" lengthAdjust="spacingAndGlyphs">Culture supernatant</text>
<text x="138.10" y="695.70" font-size="14.6" textLength="151.90" lengthAdjust="spacingAndGlyphs">of Flp-INTRex 293 cells</text>
<text x="97.00" y="725.70" font-size="12" textLength="40.50" lengthAdjust="spacingAndGlyphs">control</text>
<text x="161.30" y="725.70" font-size="12" textLength="19.20" lengthAdjust="spacingAndGlyphs">WT</text>
<text x="200.50" y="725.70" font-size="12" textLength="30.80" lengthAdjust="spacingAndGlyphs">R84H</text>
<text x="243.80" y="725.70" font-size="12" textLength="40.00" lengthAdjust="spacingAndGlyphs">D151A</text>
<text x="290.20" y="725.70" font-size="12" textLength="40.00" lengthAdjust="spacingAndGlyphs">Q340X</text>
<text x="44.50" y="769.60" font-size="14.2" textLength="32.00" lengthAdjust="spacingAndGlyphs">PLA1</text>
<text x="31.80" y="825.30" font-size="14" textLength="46.20" lengthAdjust="spacingAndGlyphs">Tubulin</text>
<g clip-path="url(#c1)">
<rect x="94.2" y="738.2" width="231.7" height="55.5" fill="#939393"/>
<g filter="url(#bl3)"><ellipse cx="120" cy="788" rx="45" ry="14" fill="#a0a0a0"/><ellipse cx="122" cy="756" rx="20" ry="12" fill="#9a9a9a"/><ellipse cx="105" cy="742" rx="14" ry="6" fill="#8f8f8f"/><rect x="230" y="736" width="100" height="60" fill="#8f8f8f"/><ellipse cx="210" cy="742" rx="60" ry="5" fill="#8e8e8e"/></g>
<g filter="url(#bl2)">
<path d="M98.5 766.4 Q106 770.3 118 771 L139.5 771" stroke="#5c5c5c" stroke-width="2.3" fill="none"/>
<path d="M130 771 L139.5 770.6" stroke="#404040" stroke-width="2.6" fill="none"/>
<path d="M151.5 764.4 L160 764.6 L192.5 763.8 L193 767.4 L160 769.2 L151.5 769.6 Z" fill="#333"/>
<path d="M205.5 765.4 L239 764.4" stroke="#1c1c1c" stroke-width="5.6" fill="none"/>
<path d="M249.5 764.6 Q262 763.8 280 761.6" stroke="#4c4c4c" stroke-width="4.4" fill="none"/>
<path d="M290 758.6 Q300 759.8 318.5 758.8" stroke="#2c2c2c" stroke-width="4.8" fill="none"/>
</g></g>
<g clip-path="url(#c2)">
<rect x="94.2" y="804.4" width="230.3" height="35.7" fill="url(#gt)"/>
<g filter="url(#bl3)"><ellipse cx="268" cy="836" rx="40" ry="10" fill="#c2c2c2"/><rect x="90" y="798" width="240" height="9" fill="#7a7a7a" opacity="0.6"/><ellipse cx="110" cy="815" rx="22" ry="10" fill="#7a7a7a"/></g>
<g filter="url(#bl2)">
<path d="M104.5 825.6 Q112 828.8 122 828.4 L142 827.6" stroke="#1e1e1e" stroke-width="5.8" fill="none"/>
<path d="M152.5 824 Q158 827 170 826.4 L193 825.2" stroke="#050505" stroke-width="7.8" fill="none"/>
<path d="M204 824.2 L238.5 823.2" stroke="#363636" stroke-width="6.4" fill="none"/>
<path d="M249 823.8 L278 823.4" stroke="#444" stroke-width="6.2" fill="none"/>
<path d="M287.5 822.4 Q300 824.6 317.5 823.8" stroke="#0a0a0a" stroke-width="7" fill="none"/>
</g></g>
<path d="M0 0H520V852H0Z M1.6 1.5V850.2H518.3V1.5Z" fill="#000" fill-rule="evenodd"/>
</svg></body></html>
